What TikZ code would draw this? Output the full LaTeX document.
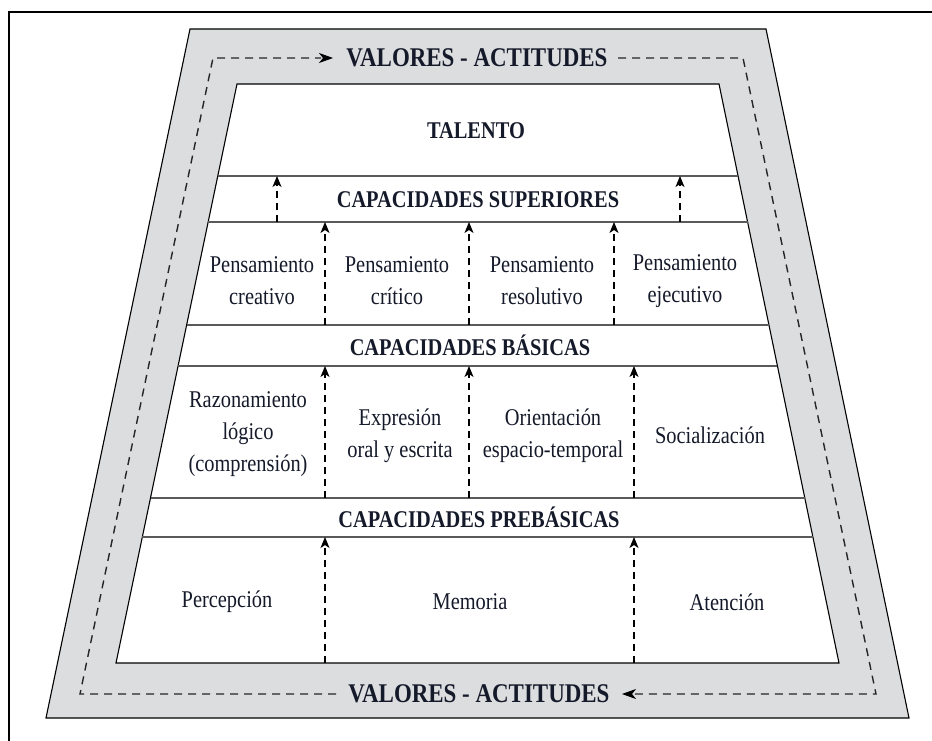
\documentclass[tikz,border=0pt]{standalone}
\usepackage{fontspec}
\setmainfont{Liberation Serif}[FakeStretch=0.85]
\usetikzlibrary{arrows.meta,calc}
\definecolor{bandgray}{HTML}{DCDDDF}
\definecolor{inkc}{HTML}{151a2a}
\definecolor{rulec}{HTML}{5a5a5a}
\tikzset{
  lbl/.style={font=\fontsize{24}{32}\selectfont, text=inkc, align=center, inner sep=0pt},
  hdr/.style={font=\fontsize{24}{30}\selectfont\bfseries, text=inkc, inner sep=0pt},
  bighdr/.style={font=\fontsize{27}{32}\selectfont\bfseries, text=inkc, inner sep=0pt},
  rowline/.style={draw=rulec, line width=1.4pt},
  uparrow/.style={draw=black, line width=1.3pt, dash pattern=on 7pt off 5pt,
    -{Stealth[length=11pt,width=9pt,inset=3pt]}},
  loopline/.style={draw=black!85, line width=1.4pt, dash pattern=on 8pt off 6pt},
  looptip/.style={draw=black, line width=1pt, -{Stealth[length=14pt,width=10pt,inset=4pt]}},
}
\begin{document}
\begin{tikzpicture}[x=1pt,y=-1pt]
\useasboundingbox (0,0) rectangle (932,741);
% frame
\draw[line width=1.6pt] (9,741) -- (9,12) -- (932,12);
% outer trapezoid
\coordinate (oTL) at (190,29);
\coordinate (oTR) at (766,29);
\coordinate (oBR) at (909,718);
\coordinate (oBL) at (46,718);
\coordinate (iTL) at (237,84);
\coordinate (iTR) at (719,84);
\coordinate (iBR) at (839,663);
\coordinate (iBL) at (116,663);
\fill[bandgray] (oTL) -- (oTR) -- (oBR) -- (oBL) -- cycle;
\draw[line width=1.1pt] (oTL) -- (oTR) -- (oBR) -- (oBL) -- cycle;
\filldraw[fill=white, line width=1.1pt] (iTL) -- (iTR) -- (iBR) -- (iBL) -- cycle;
% row lines
\coordinate (l1L) at (217.8,176); \coordinate (l1R) at (738.0,176);
\coordinate (l2L) at (208.2,222); \coordinate (l2R) at (747.6,222);
\coordinate (l3L) at (186.6,325); \coordinate (l3R) at (768.9,325);
\coordinate (l4L) at (178.1,366); \coordinate (l4R) at (777.4,366);
\coordinate (l5L) at (150.5,498); \coordinate (l5R) at (804.7,498);
\coordinate (l6L) at (142.3,537); \coordinate (l6R) at (812.8,537);
\foreach \k in {1,...,6} { \draw[rowline] (l\k L) -- (l\k R); }
% texts
\node[hdr] (tal) at (476,131) {TALENTO};
\node[hdr] (csup) at (478,200) {CAPACIDADES SUPERIORES};
\node[hdr] (cbas) at (470,345) {CAPACIDADES BÁSICAS};
\node[hdr] (cpre) at (479,517) {CAPACIDADES PREBÁSICAS};
\node[bighdr] (vt) at (477,58) {VALORES - ACTITUDES};
\node[bighdr] (vb) at (479,694) {VALORES - ACTITUDES};
\node[lbl] (pcr) at (262,281) {Pensamiento\\creativo};
\node[lbl] (pcc) at (397,281) {Pensamiento\\crítico};
\node[lbl] (pre) at (542,281) {Pensamiento\\resolutivo};
\node[lbl] (pej) at (685,281) {Pensamiento\\ejecutivo};
\node[lbl] (raz) at (248,434) {Razonamiento\\lógico\\(comprensión)};
\node[lbl] (exp) at (400,436) {Expresión\\oral y escrita};
\node[lbl] (ori) at (553,436) {Orientación\\espacio-temporal};
\node[lbl] (soc) at (710,435) {Socialización};
\node[lbl] (per) at (227,602) {Percepción};
\node[lbl] (mem) at (470,602) {Memoria};
\node[lbl] (ate) at (727,602) {Atención};
% vertical arrows
\foreach \x/\ya/\yb in {277/222/176, 680/222/176,
  325/325/222, 469/325/222, 614/325/222,
  325/498/366, 469/498/366, 634/498/366,
  325/663/537, 634/663/537} {
  \coordinate (a) at (\x,\ya); \coordinate (b) at (\x,\yb);
  \draw[uparrow] (a) -- (b);
}
% loop
\coordinate (dTL) at (213,58);
\coordinate (dTR) at (743,58);
\coordinate (dBR) at (876,694);
\coordinate (dBL) at (80,694);
\coordinate (tArr) at (333,58);
\coordinate (tSt) at (618,58);
\coordinate (bArr) at (622,694);
\coordinate (bSt) at (336,694);
\draw[loopline] (tSt) -- (dTR) -- (dBR) -- ($(bArr)+(12,0)$);
\draw[loopline] (bSt) -- (dBL) -- (dTL) -- ($(tArr)+(-12,0)$);
\draw[looptip] ($(tArr)+(-6,0)$) -- (tArr);
\draw[looptip] ($(bArr)+(6,0)$) -- (bArr);
\end{tikzpicture}
\end{document}
